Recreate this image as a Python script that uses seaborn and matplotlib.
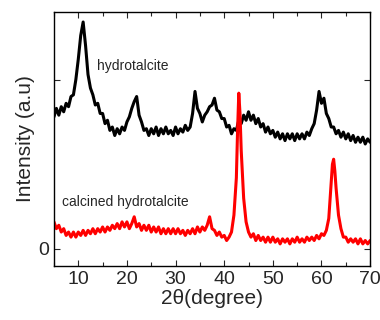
import numpy as np
import matplotlib
matplotlib.use("Agg")
import matplotlib.pyplot as plt
import seaborn as sns
from matplotlib.ticker import MultipleLocator

# 2-theta grid for the hydrotalcite scan (0.5 deg steps)
ht_x = np.arange(5.0, 70.01, 0.5)
ht_y = [0.78, 0.83, 0.79, 0.84, 0.81, 0.86, 0.84, 0.90, 0.91, 1.00,
        1.12, 1.26, 1.34, 1.20, 1.03, 0.95, 0.91, 0.85, 0.86, 0.80,
        0.80, 0.74, 0.76, 0.70, 0.72, 0.67, 0.71, 0.68, 0.72, 0.70,
        0.75, 0.78, 0.83, 0.87, 0.90, 0.79, 0.75, 0.70, 0.71, 0.67,
        0.71, 0.68, 0.72, 0.67, 0.71, 0.68, 0.72, 0.68, 0.70, 0.67,
        0.72, 0.68, 0.71, 0.69, 0.73, 0.70, 0.72, 0.80, 0.93, 0.83,
        0.80, 0.75, 0.79, 0.81, 0.84, 0.85, 0.89, 0.82, 0.81, 0.77,
        0.77, 0.72, 0.73, 0.68, 0.71, 0.70, 0.76, 0.74, 0.79, 0.76,
        0.81, 0.76, 0.79, 0.74, 0.77, 0.72, 0.74, 0.69, 0.72, 0.68,
        0.70, 0.66, 0.69, 0.65, 0.68, 0.64, 0.68, 0.65, 0.68, 0.64,
        0.68, 0.65, 0.68, 0.65, 0.69, 0.67, 0.71, 0.74, 0.82, 0.93,
        0.86, 0.89, 0.80, 0.77, 0.72, 0.72, 0.68, 0.70, 0.66, 0.69,
        0.65, 0.68, 0.64, 0.67, 0.63, 0.66, 0.63, 0.66, 0.62, 0.65,
        0.63]

# calcined sample
cal_x = [5.0, 5.5, 6.0, 6.5, 7.0, 7.5, 8.0, 8.5, 9.0, 9.5,
         10.0, 10.5, 11.0, 11.5, 12.0, 12.5, 13.0, 13.5, 14.0, 14.5,
         15.0, 15.5, 16.0, 16.5, 17.0, 17.5, 18.0, 18.5, 19.0, 19.5,
         20.0, 20.5, 21.0, 21.5, 22.0, 22.5, 23.0, 23.5, 24.0, 24.5,
         25.0, 25.5, 26.0, 26.5, 27.0, 27.5, 28.0, 28.5, 29.0, 29.5,
         30.0, 30.5, 31.0, 31.5, 32.0, 32.5, 33.0, 33.5, 34.0, 34.5,
         35.0, 35.5, 36.0, 36.5, 37.0, 37.5, 38.0, 38.5, 39.0, 39.5,
         40.0, 40.5, 41.0, 41.5, 42.0, 42.5, 42.75, 43.0, 43.25, 43.5,
         44.0, 44.5, 45.0, 45.5, 46.0, 46.5, 47.0, 47.5, 48.0, 48.5,
         49.0, 49.5, 50.0, 50.5, 51.0, 51.5, 52.0, 52.5, 53.0, 53.5,
         54.0, 54.5, 55.0, 55.5, 56.0, 56.5, 57.0, 57.5, 58.0, 58.5,
         59.0, 59.5, 60.0, 60.5, 61.0, 61.5, 62.0, 62.25, 62.5, 62.75,
         63.0, 63.5, 64.0, 64.5, 65.0, 65.5, 66.0, 66.5, 67.0, 67.5,
         68.0, 68.5, 69.0, 69.5, 70.0]
cal_y = [0.16, 0.12, 0.14, 0.10, 0.12, 0.08, 0.10, 0.07, 0.10, 0.07,
         0.10, 0.08, 0.11, 0.08, 0.11, 0.09, 0.12, 0.09, 0.12, 0.10,
         0.13, 0.10, 0.13, 0.11, 0.14, 0.12, 0.15, 0.12, 0.16, 0.13,
         0.16, 0.12, 0.15, 0.19, 0.13, 0.15, 0.11, 0.14, 0.11, 0.14,
         0.10, 0.13, 0.10, 0.13, 0.09, 0.12, 0.09, 0.12, 0.09, 0.12,
         0.09, 0.12, 0.09, 0.11, 0.08, 0.11, 0.09, 0.12, 0.09, 0.13,
         0.10, 0.13, 0.11, 0.14, 0.19, 0.12, 0.11, 0.08, 0.10, 0.07,
         0.08, 0.05, 0.07, 0.10, 0.20, 0.42, 0.70, 0.92, 0.80, 0.58,
         0.30, 0.16, 0.10, 0.07, 0.09, 0.05, 0.08, 0.05, 0.07, 0.04,
         0.07, 0.04, 0.07, 0.04, 0.06, 0.03, 0.06, 0.04, 0.06, 0.03,
         0.06, 0.04, 0.07, 0.04, 0.06, 0.04, 0.07, 0.05, 0.07, 0.05,
         0.08, 0.06, 0.09, 0.08, 0.11, 0.18, 0.40, 0.50, 0.53, 0.46,
         0.36, 0.20, 0.12, 0.07, 0.07, 0.04, 0.06, 0.04, 0.06, 0.03,
         0.06, 0.03, 0.05, 0.03, 0.05]

sns.set_style("ticks")
plt.rcParams["font.family"] = ["Liberation Sans", "DejaVu Sans"]

fig = plt.figure(figsize=(3.8, 3.2), dpi=100)
ax = fig.add_axes([0.142, 0.169, 0.832, 0.794])

# thick lines stand in for the dense noise band of the raw scans
sns.lineplot(x=ht_x, y=ht_y, color="black", lw=2.2, sort=False, estimator=None, ax=ax)
sns.lineplot(x=cal_x, y=cal_y, color="red", lw=2.2, sort=False, estimator=None, ax=ax)

ax.text(13.8, 1.08, "hydrotalcite", fontsize=10, va="center")
ax.text(6.6, 0.28, "calcined hydrotalcite", fontsize=10, va="center")

ax.set_xlim(5, 70)
ax.set_ylim(-0.1, 1.4)
ax.xaxis.set_major_locator(MultipleLocator(10))
ax.xaxis.set_minor_locator(MultipleLocator(5))
ax.set_yticks([0, 1])
ax.set_yticklabels(["0", ""])
ax.tick_params(which="both", direction="in", top=True, right=True, labelsize=14, width=0.8)
ax.tick_params(which="major", length=4)
ax.tick_params(which="minor", length=3)
for s in ax.spines.values():
    s.set_linewidth(1.0)
    s.set_color("black")

ax.set_xlabel("2θ(degree)", fontsize=15, labelpad=1)
ax.set_ylabel("Intensity (a.u)", fontsize=15, labelpad=2)

fig.savefig("out.png", dpi=100)
